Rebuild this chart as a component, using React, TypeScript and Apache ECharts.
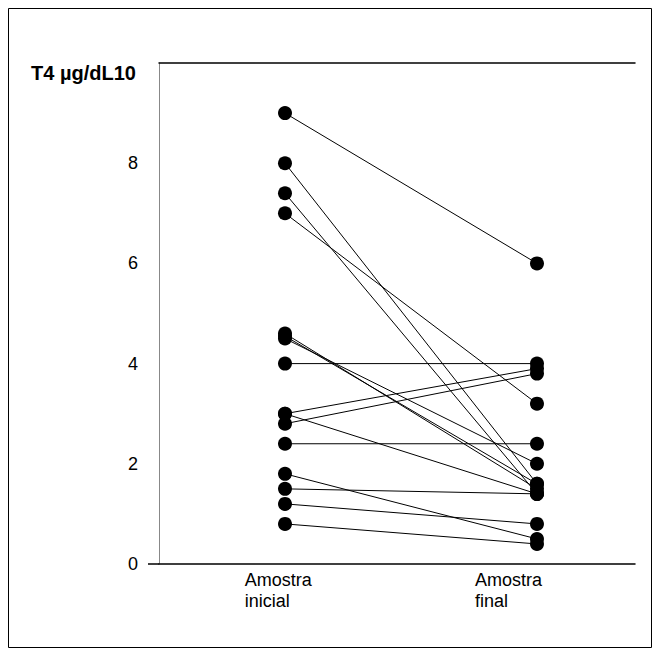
import React, { useEffect, useRef } from "react";
import * as echarts from "echarts";

const categories = ["Amostra\ninicial", "Amostra\nfinal"];
const initialValues = [9.0, 8.0, 7.4, 7.0, 4.6, 4.55, 4.5, 4.0, 3.0, 3.0, 2.8, 2.4, 1.8, 1.5, 1.2, 0.8];
const finalValues = [6.0, 1.6, 1.4, 3.2, 1.5, 1.6, 2.0, 4.0, 3.9, 1.4, 3.8, 2.4, 0.5, 1.4, 0.8, 0.4];
const yTicks = [0, 2, 4, 6, 8, 10];
const titleText = "T4 µg/dL10";

export default function App() {
  const ref = useRef<HTMLDivElement>(null);
  useEffect(() => {
    if (!ref.current) return;
    const chart = echarts.init(ref.current, null, { renderer: "svg" });
    const font = "'Liberation Sans', Arial, sans-serif";
    const series = initialValues.map((v, i) => ({
      type: "line",
      data: [
        [0, v],
        [1, finalValues[i]],
      ],
      symbol: "circle",
      symbolSize: 14,
      lineStyle: { color: "#000", width: 1 },
      itemStyle: { color: "#000" },
      silent: true,
    }));
    chart.setOption({
      animation: false,
      backgroundColor: "#fff",
      title: {
        text: titleText,
        left: 26,
        top: 58,
        textStyle: { fontFamily: font, fontSize: 20, fontWeight: "bold", color: "#000" },
      },
      graphic: [
        {
          type: "rect",
          shape: { x: 8.5, y: 8.5, width: 643, height: 639 },
          style: { fill: "none", stroke: "#000", lineWidth: 1 },
          silent: true,
        },
      ],
      grid: { left: 159, right: 26, top: 63, bottom: 92, containLabel: false },
      xAxis: [
        {
          type: "value",
          min: -0.5,
          max: 1.389,
          splitLine: { show: false },
          axisLine: { show: true, onZero: false, lineStyle: { color: "#000", width: 1.5 } },
          axisTick: { show: false },
          axisLabel: {
            customValues: [-0.16, 0.754],
            formatter: (v: number) => (v < 0.3 ? categories[0] : categories[1]),
            align: "left",
            fontFamily: font,
            fontSize: 18,
            lineHeight: 21,
            color: "#000",
            margin: 5,
          },
        },
        {
          type: "value",
          position: "top",
          min: -0.5,
          max: 1.389,
          splitLine: { show: false },
          axisLine: { show: true, onZero: false, lineStyle: { color: "#000", width: 1.5 } },
          axisTick: { show: false },
          axisLabel: { show: false },
        },
      ],
      yAxis: {
        type: "value",
        min: yTicks[0],
        max: yTicks[yTicks.length - 1],
        interval: 2,
        splitLine: { show: false },
        axisLine: { show: true, onZero: false, lineStyle: { color: "#888", width: 1 } },
        axisTick: {
          show: true,
          customValues: [0],
          length: 11,
          lineStyle: { color: "#000", width: 1.5 },
        },
        axisLabel: {
          fontFamily: font,
          fontSize: 18,
          color: "#000",
          margin: 21,
          formatter: (v: number) => (v === 10 ? "" : String(v)),
        },
      },
      series,
    });
    return () => chart.dispose();
  }, []);
  return (
    <div
      ref={ref}
      style={{ position: "fixed", left: 0, top: 0, width: 661, height: 656 }}
    />
  );
}
